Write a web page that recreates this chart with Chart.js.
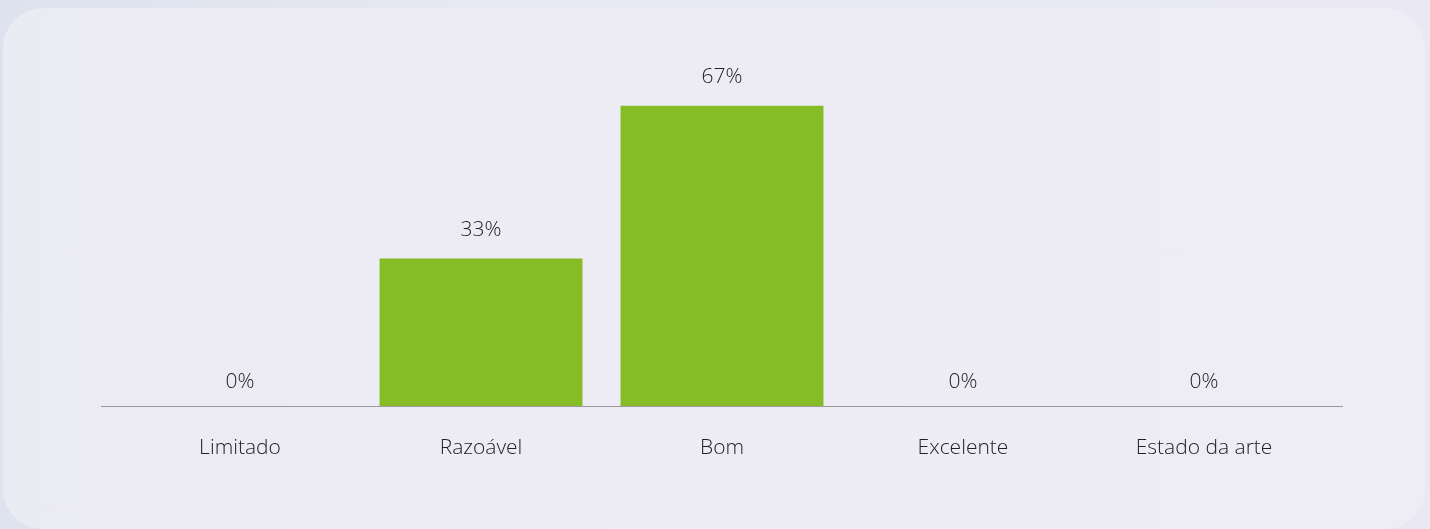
<!DOCTYPE html>
<html>
<head>
<meta charset="utf-8">
<script src="https://cdn.jsdelivr.net/npm/chart.js@4.4.1/dist/chart.umd.min.js"></script>
<style>
  html, body { margin:0; padding:0; width:1430px; height:529px; overflow:hidden;
    background: linear-gradient(100deg, #dde2ee 0%, #e6e8f2 30%, #eae9f3 100%); font-family:"Open Sans", sans-serif; }
  #card { position:absolute; left:3px; top:8px; width:1422px; height:521px; border-radius:40px;
    background: linear-gradient(90deg, #ebebf4 0%, #edecf5 40%, #eeedf6 100%); }
  #wrap { position:absolute; left:0; top:0; width:1430px; height:529px; }
</style>
</head>
<body>
<div id="card"></div>
<div id="wrap"><canvas id="c" width="1430" height="529"></canvas></div>
<script>
const categories = ["Limitado", "Razoável", "Bom", "Excelente", "Estado da arte"];
const values = [0, 33, 67, 0, 0];
const valueLabels = ["0%", "33%", "67%", "0%", "0%"];

const FONT = { family: "'Open Sans', sans-serif", size: 21, weight: 300 };
const TEXT = "#222222";

const overlay = {
  id: "overlay",
  afterDatasetsDraw(chart) {
    const ctx = chart.ctx;
    const area = chart.chartArea;
    ctx.save();
    ctx.strokeStyle = "#9b9b9f";
    ctx.lineWidth = 1.2;
    ctx.beginPath();
    ctx.moveTo(area.left - 18.5, area.bottom - 0.3);
    ctx.lineTo(area.right + 18.5, area.bottom - 0.3);
    ctx.stroke();
    const meta = chart.getDatasetMeta(0);
    ctx.fillStyle = TEXT;
    ctx.font = `${FONT.weight} ${FONT.size}px ${FONT.family}`;
    ctx.textAlign = "center";
    ctx.textBaseline = "middle";
    meta.data.forEach((bar, i) => {
      const off = values[i] > 0 ? 29 : 24.5;
      ctx.fillText(valueLabels[i], bar.x, bar.y - off);
    });
    ctx.restore();
  }
};

new Chart(document.getElementById("c"), {
  type: "bar",
  data: {
    labels: categories,
    datasets: [{
      data: values,
      backgroundColor: "#86bc25",
      borderWidth: 0,
      barPercentage: 0.842,
      categoryPercentage: 1
    }]
  },
  options: {
    responsive: false,
    animation: false,
    events: [],
    layout: { padding: { left: 119.5, right: 105.5, top: 47.4, bottom: 47 } },
    plugins: { legend: { display: false }, tooltip: { enabled: false } },
    scales: {
      x: {
        grid: { display: false },
        border: { display: false },
        ticks: { color: TEXT, font: FONT, padding: 21, maxRotation: 0 }
      },
      y: { display: false, min: 0, max: 80 }
    }
  },
  plugins: [overlay]
});
</script>
</body>
</html>
